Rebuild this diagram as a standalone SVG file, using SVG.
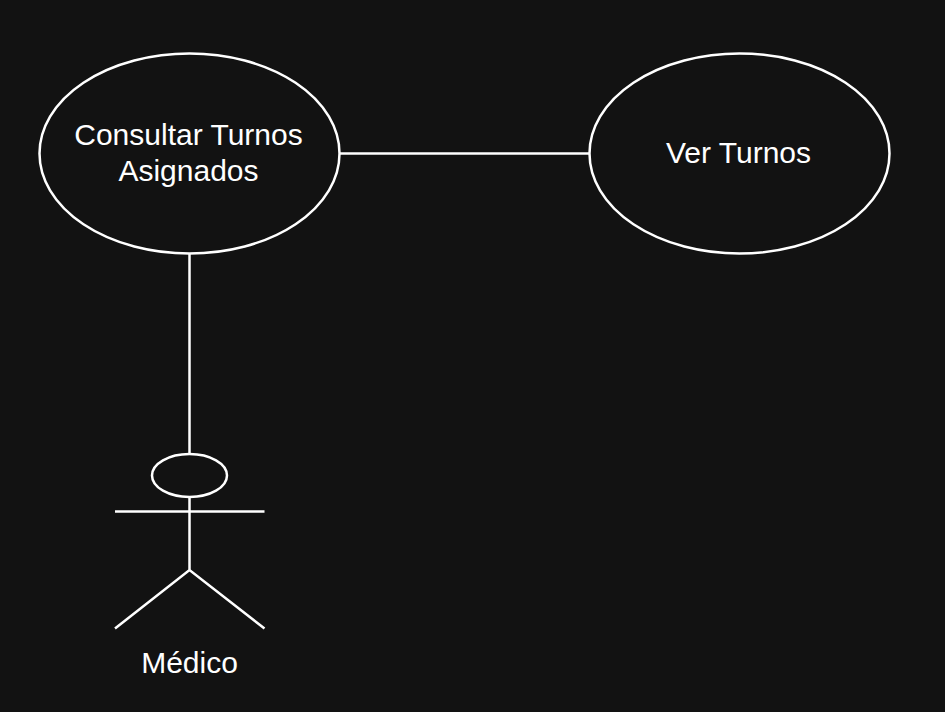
<svg xmlns="http://www.w3.org/2000/svg" width="945" height="712" viewBox="0 0 945 712">
<style>
.s{fill:none;stroke:#fff;stroke-width:2.5}
.e{fill:#121212;stroke:#fff;stroke-width:2.5}
text{font-family:"Liberation Sans",Arial,sans-serif;font-size:30px;fill:#fff;text-anchor:middle}
</style>
<rect width="945" height="712" fill="#121212"/>
<g id="connectors">
<path class="s" d="M340 153.500H589"/>
<path class="s" d="M189.500 254V454"/>
</g>
<g id="consultar">
<ellipse class="e" cx="189.500" cy="153.500" rx="150" ry="100"/>
<text x="188.500" y="145">Consultar Turnos</text>
<text x="188.500" y="181">Asignados</text>
</g>
<g id="ver">
<ellipse class="e" cx="739.500" cy="153.500" rx="150" ry="100"/>
<text x="738.500" y="163">Ver Turnos</text>
</g>
<g id="medico">
<ellipse class="s" cx="189.500" cy="475.500" rx="37.500" ry="21.500"/>
<path class="s" d="M189.500 497V570M115 511.500H264.500M115 628.500L189.500 570L264.500 628.500"/>
<text x="189.500" y="673">Médico</text>
</g>
</svg>
